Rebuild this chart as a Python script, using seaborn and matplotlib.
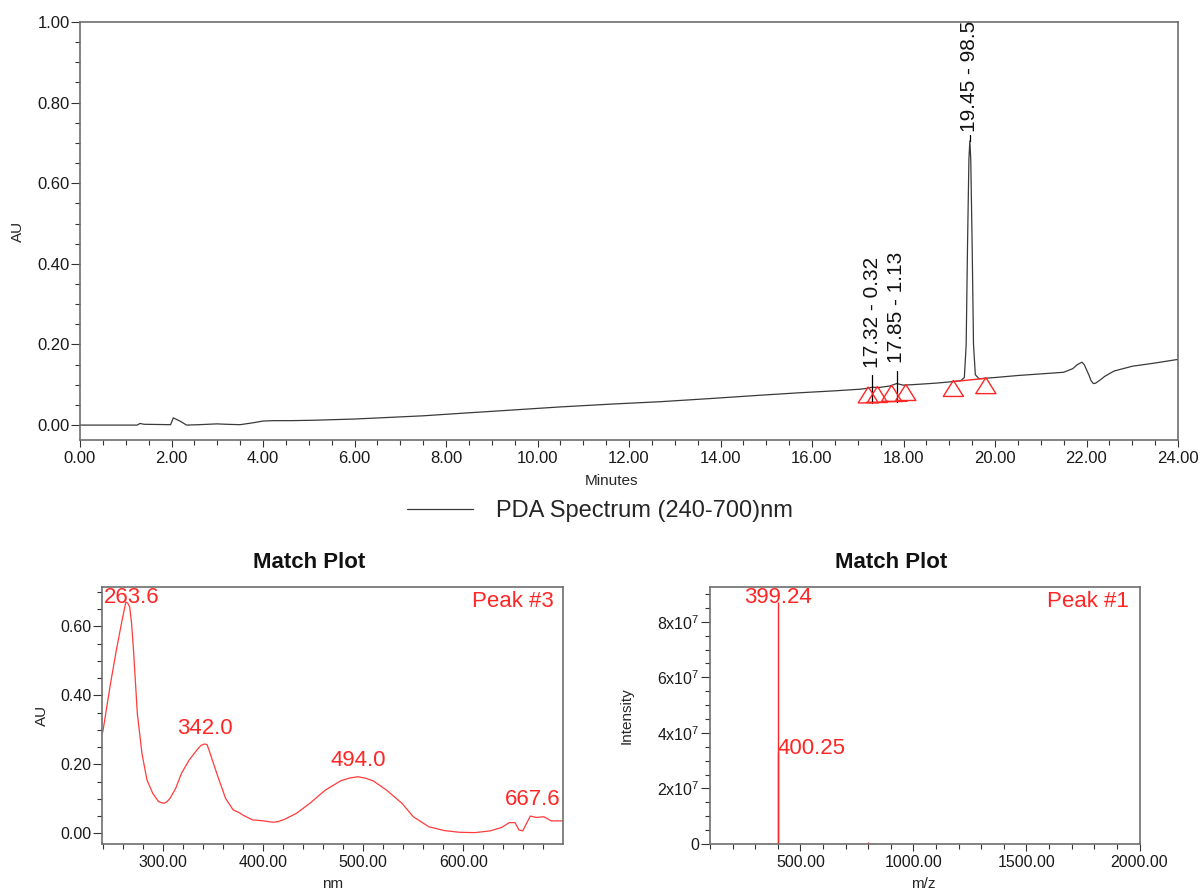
import numpy as np
import pandas as pd
import matplotlib
matplotlib.use("Agg")
import matplotlib.pyplot as plt
from matplotlib.ticker import MultipleLocator, FormatStrFormatter, FuncFormatter
import seaborn as sns

# ---------------- datos ----------------
# cromatograma PDA (240-700 nm): minutos / AU
tiempo = [0.0, 1.25, 1.31, 1.4, 1.98, 2.04, 2.2, 2.33, 2.6, 2.99, 3.2, 3.5, 3.8, 4.0,
          4.22, 4.6, 5.1, 6.0, 6.56, 7.5, 8.3, 9.4, 10.49, 11.6, 12.68, 13.8, 14.86,
          15.7, 16.5, 17.05, 17.2, 17.32, 17.45, 17.7, 17.85, 18.0, 18.3, 18.7, 19.0,
          19.25, 19.33, 19.37, 19.40, 19.43, 19.45, 19.47, 19.50, 19.53, 19.57, 19.65,
          20.0, 20.5, 21.0, 21.5, 21.7, 21.8, 21.9, 21.95, 22.05, 22.1, 22.15, 22.2,
          22.3, 22.4, 22.6, 23.0, 23.5, 24.0]
absorb = [0.0, 0.0, 0.004, 0.002, 0.001, 0.018, 0.009, 0.0, 0.001, 0.003, 0.002, 0.001,
          0.006, 0.010, 0.011, 0.011, 0.012, 0.015, 0.018, 0.023, 0.029, 0.037, 0.045,
          0.052, 0.058, 0.066, 0.074, 0.080, 0.085, 0.089, 0.091, 0.094, 0.093, 0.097,
          0.103, 0.099, 0.101, 0.104, 0.107, 0.110, 0.118, 0.200, 0.450, 0.660, 0.705,
          0.660, 0.450, 0.200, 0.125, 0.115, 0.118, 0.123, 0.127, 0.131, 0.140, 0.150,
          0.156, 0.150, 0.125, 0.110, 0.103, 0.104, 0.112, 0.121, 0.134, 0.146, 0.154,
          0.163]

# marcas de integración (inicio / fin de pico)
marca_t = [17.23, 17.43, 17.74, 18.05, 19.09, 19.80]
marca_au = [0.075, 0.076, 0.079, 0.081, 0.091, 0.098]

# picos etiquetados: tiempo - % área
pico_t = [17.32, 17.85, 19.45]
pico_area = ["0.32", "1.13", "98.55"]
linea_ini = [0.055, 0.058, 0.705]
linea_fin = [0.124, 0.133, 0.720]
texto_y = [0.141, 0.153, 0.727]

# espectro UV-Vis del pico 3
nm = [239.8, 247.5, 253.3, 259.0, 261.0, 262.8, 264.5, 266.7, 268.5, 270.5, 274.3,
      279.0, 284.0, 289.7, 295.4, 298.0, 301.0, 304.0, 306.9, 312.6, 318.4, 326.0,
      333.7, 338.0, 341.4, 344.0, 347.0, 354.8, 362.5, 370.0, 375.9, 381.6, 389.3,
      400.8, 405.0, 410.3, 415.0, 421.8, 433.3, 446.7, 462.0, 477.4, 486.0, 494.6,
      502.0, 510.0, 523.4, 538.7, 550.0, 565.5, 580.8, 596.0, 611.5, 626.8, 638.3,
      646.0, 651.7, 655.5, 659.4, 663.2, 667.0, 672.8, 680.5, 688.0, 699.6]
au_esp = [0.294, 0.434, 0.530, 0.617, 0.645, 0.670, 0.668, 0.656, 0.610, 0.530, 0.347,
          0.230, 0.154, 0.116, 0.092, 0.089, 0.087, 0.092, 0.101, 0.130, 0.174, 0.212,
          0.241, 0.255, 0.259, 0.257, 0.232, 0.164, 0.101, 0.068, 0.060, 0.050, 0.039,
          0.036, 0.034, 0.032, 0.034, 0.041, 0.058, 0.087, 0.125, 0.152, 0.160, 0.164,
          0.160, 0.152, 0.125, 0.087, 0.048, 0.019, 0.008, 0.003, 0.002, 0.007, 0.017,
          0.031, 0.031, 0.010, 0.007, 0.029, 0.050, 0.046, 0.048, 0.036, 0.036]
esp_picos = ["263.6", "342.0", "494.0", "667.6"]
esp_x = [268.6, 341.4, 494.6, 669.0]
esp_y = [0.683, 0.304, 0.210, 0.098]

# espectro de masas del pico 1
mz = [358.0, 399.24, 400.25, 444.0, 800.0, 823.0, 1197.0]
intens = [4e5, 8.7e7, 3.3e7, 3e5, 8e5, 4e5, 2e5]

# ---------------- estilo ----------------
sns.set_theme(style="ticks")
plt.rcParams["font.family"] = ["Liberation Sans", "DejaVu Sans"]
plt.rcParams["mathtext.default"] = "regular"

ROJO = "#ff2626"
W, H = 1203, 893
fig = plt.figure(figsize=(W / 100, H / 100), dpi=100)


def estilo(ax, tam=12):
    for s in ax.spines.values():
        s.set_color("#6e6e6e")
        s.set_linewidth(1.2)
    ax.tick_params(which="both", direction="out", color="#333333",
                   labelcolor="#1a1a1a", labelsize=tam, width=0.8)
    ax.tick_params(axis="y", which="major", length=6.5, pad=1)
    ax.tick_params(axis="y", which="minor", length=3.5)
    ax.tick_params(axis="x", which="major", length=5, pad=3)
    ax.tick_params(axis="x", which="minor", length=3.5)


# ---------------- cromatograma ----------------
ax = fig.add_axes([80 / W, 1 - 440 / H, 1098 / W, 418 / H])
crom = pd.DataFrame({"Minutes": tiempo, "AU": absorb})
sns.lineplot(data=crom, x="Minutes", y="AU", ax=ax, color="#3a3a3a", linewidth=0.9,
             label="PDA Spectrum (240-700)nm")
sns.scatterplot(x=marca_t, y=marca_au, ax=ax, marker=[(0, 0.8), (-1, -0.8), (1, -0.8), (0, 0.8)],
                s=210, color="none", edgecolor=ROJO, linewidth=1.0, zorder=3)
ax.plot([17.18, 18.08], [0.056, 0.059], color=ROJO, lw=1.0)
ax.plot([19.09, 19.80], [0.108, 0.116], color=ROJO, lw=1.0)
for t, a, y0, y1, yt in zip(pico_t, pico_area, linea_ini, linea_fin, texto_y):
    ax.plot([t, t], [y0, y1], color="black", lw=0.9)
    ax.text(t, yt, f"{t:.2f} - {a}", rotation=90, ha="center", va="bottom",
            fontsize=15, color="#111111", clip_on=True)

ax.set_xlim(0, 24)
ax.set_ylim(-0.037, 1.0)
ax.xaxis.set_major_locator(MultipleLocator(2))
ax.xaxis.set_minor_locator(MultipleLocator(0.5))
ax.yaxis.set_major_locator(MultipleLocator(0.2))
ax.yaxis.set_minor_locator(MultipleLocator(0.05))
ax.xaxis.set_major_formatter(FormatStrFormatter("%.2f"))
ax.yaxis.set_major_formatter(FormatStrFormatter("%.2f"))
estilo(ax)
ax.set_xlabel("Minutes", fontsize=11, va="center")
ax.set_ylabel("AU", fontsize=11, va="center")
ax.xaxis.set_label_coords(0.4845, -0.098)
ax.yaxis.set_label_coords(-0.0565, 0.5)
ax.legend(loc="center", bbox_to_anchor=(0.4736, -0.17), frameon=False, fontsize=17,
          handlelength=2.8, handletextpad=0.95)

# ---------------- espectro UV ----------------
ax2 = fig.add_axes([102 / W, 1 - 844 / H, 461 / W, 257 / H])
esp = pd.DataFrame({"nm": nm, "AU": au_esp})
sns.lineplot(data=esp, x="nm", y="AU", ax=ax2, color="#ff3b3b", linewidth=0.9)
for txt, x, y in zip(esp_picos, esp_x, esp_y):
    ax2.text(x, y, txt, ha="center", va="center", fontsize=16, color=ROJO)
ax2.text(690, 0.673, "Peak #3", ha="right", va="center", fontsize=16, color=ROJO)
ax2.set_xlim(239, 699.6)
ax2.set_ylim(-0.031, 0.714)
ax2.xaxis.set_major_locator(MultipleLocator(100))
ax2.xaxis.set_minor_locator(MultipleLocator(20))
ax2.yaxis.set_major_locator(MultipleLocator(0.2))
ax2.yaxis.set_minor_locator(MultipleLocator(0.05))
ax2.xaxis.set_major_formatter(FormatStrFormatter("%.2f"))
ax2.yaxis.set_major_formatter(FormatStrFormatter("%.2f"))
estilo(ax2, 11.5)
ax2.set_xlabel("nm", fontsize=11, va="center")
ax2.set_ylabel("AU", fontsize=11, va="center")
ax2.xaxis.set_label_coords(0.501, -0.156)
ax2.yaxis.set_label_coords(-0.130, 0.5)

# ---------------- espectro de masas ----------------
ax3 = fig.add_axes([710 / W, 1 - 844 / H, 429.5 / W, 257 / H])
sns.despine(ax=ax3, top=False, right=False)
ax3.vlines(mz, 0, intens, color=ROJO, lw=1.0)
ax3.text(399.24, 8.86e7, "399.24", ha="center", va="center", fontsize=16, color=ROJO)
ax3.text(400.25, 3.45e7, "400.25", ha="left", va="center", fontsize=16, color=ROJO)
ax3.text(1952, 8.74e7, "Peak #1", ha="right", va="center", fontsize=16, color=ROJO)
ax3.set_xlim(100, 2000)
ax3.set_ylim(0, 9.25e7)
ax3.xaxis.set_major_locator(MultipleLocator(500))
ax3.xaxis.set_minor_locator(MultipleLocator(100))
ax3.yaxis.set_major_locator(MultipleLocator(2e7))
ax3.yaxis.set_minor_locator(MultipleLocator(5e6))
ax3.xaxis.set_major_formatter(FormatStrFormatter("%.2f"))
ax3.yaxis.set_major_formatter(FuncFormatter(
    lambda v, p: "0" if v == 0 else f"{int(round(v / 1e7))}x10$^7$"))
estilo(ax3, 11.5)
ax3.set_xlabel("m/z", fontsize=11, va="center")
ax3.set_ylabel("Intensity", fontsize=11, va="center")
ax3.xaxis.set_label_coords(0.4975, -0.156)
ax3.yaxis.set_label_coords(-0.194, 0.5)

# títulos de los paneles inferiores
fig.text(309 / W, 1 - 563 / H, "Match Plot", ha="center", va="center",
         fontsize=16, fontweight="bold", color="#111111")
fig.text(891 / W, 1 - 563 / H, "Match Plot", ha="center", va="center",
         fontsize=16, fontweight="bold", color="#111111")

fig.savefig("out.png", dpi=100, facecolor="white")
